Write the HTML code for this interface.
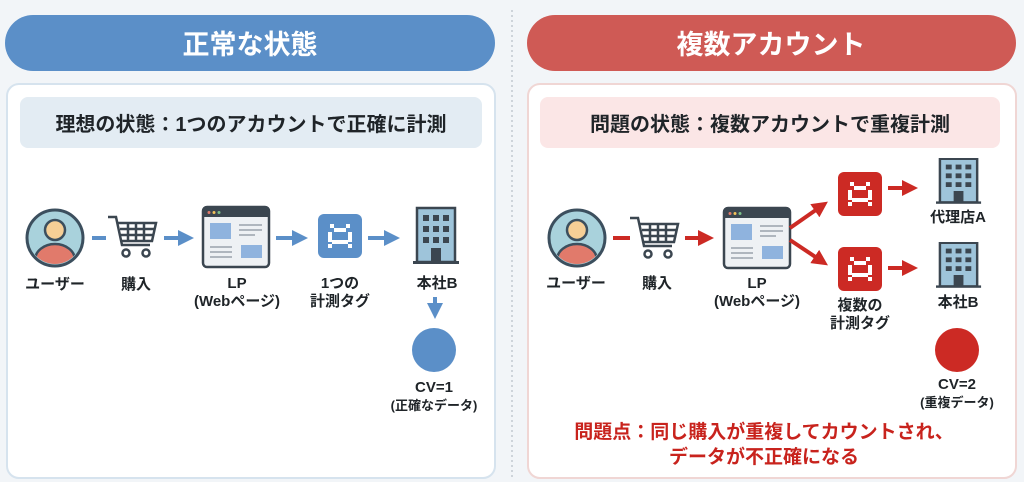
<!DOCTYPE html>
<html><head><meta charset="utf-8"><style>
body{margin:0;width:1024px;height:482px;overflow:hidden;background:#f2f5f8;}
svg{display:block}
text{font-family:"Liberation Sans","Noto Sans CJK JP",sans-serif;font-weight:bold;}
</style></head><body>
<svg width="1024" height="482" viewBox="0 0 1024 482">
<defs>
<marker id="ab" markerWidth="4" markerHeight="4" refX="2.5" refY="2" orient="auto" markerUnits="strokeWidth"><path d="M0,0 L4,2 L0,4Z" fill="#5b8fc8"/></marker>
<marker id="ar" markerWidth="4" markerHeight="4" refX="2.5" refY="2" orient="auto" markerUnits="strokeWidth"><path d="M0,0 L4,2 L0,4Z" fill="#cc2a24"/></marker>
<g id="person"><circle r="28" fill="#a9d2dc" stroke="#3c4f5e" stroke-width="3"/><clipPath id="pc"><circle r="26"/></clipPath><g clip-path="url(#pc)"><ellipse cx="0" cy="22" rx="20" ry="16" fill="#e17a6b" stroke="#3c4f5e" stroke-width="2.5"/></g><circle cy="-8" r="10" fill="#f6cf96" stroke="#3c4f5e" stroke-width="2.5"/></g>
<g id="cart" fill="none" stroke="#3b4650" stroke-width="2.5"><path d="M0,2 H8 L14,30 H42"/><path d="M9,8 H48 L44,26 H13"/><path d="M12,14 H46 M12,20 H45 M20,8 V26 M28,8 V26 M36,8 V26"/><circle cx="18" cy="38" r="3.5"/><circle cx="38" cy="38" r="3.5"/></g>
<g id="lp"><rect width="66" height="60" rx="4" fill="#eef1f4" stroke="#3b4650" stroke-width="2.5"/><rect x="1" y="1" width="64" height="9" fill="#3b4650"/><circle cx="6" cy="5.5" r="1.5" fill="#e17a6b"/><circle cx="11" cy="5.5" r="1.5" fill="#f3c25a"/><circle cx="16" cy="5.5" r="1.5" fill="#7cc08a"/><rect x="7" y="16" width="21" height="16" fill="#8fb3de"/><rect x="38" y="38" width="21" height="13" fill="#8fb3de"/><g stroke="#9aa3ab" stroke-width="1.5"><path d="M36,18H59 M36,23H59 M36,28H52 M7,40H29 M7,45H29 M7,50H29"/></g></g>
<g id="tagw" fill="#fff"><rect x="12" y="10" width="4" height="4"/><rect x="28" y="10" width="4" height="4"/><rect x="16" y="14" width="12" height="4"/><rect x="10" y="18" width="4" height="10"/><rect x="30" y="18" width="4" height="10"/><rect x="14" y="26" width="16" height="4"/><rect x="10" y="30" width="4" height="4"/><rect x="30" y="30" width="4" height="4"/></g>
<g id="bld"><rect x="4" y="0" width="38" height="54" fill="#9ec4da" stroke="#3b4650" stroke-width="2.5"/><g fill="#3b4650"><rect x="10" y="7" width="6" height="6"/><rect x="20" y="7" width="6" height="6"/><rect x="30" y="7" width="6" height="6"/><rect x="10" y="18" width="6" height="6"/><rect x="20" y="18" width="6" height="6"/><rect x="30" y="18" width="6" height="6"/><rect x="10" y="29" width="6" height="6"/><rect x="20" y="29" width="6" height="6"/><rect x="30" y="29" width="6" height="6"/><rect x="18" y="40" width="10" height="14"/><rect x="0" y="53" width="46" height="3"/></g></g>
</defs>
<line x1="512" y1="10" x2="512" y2="478" stroke="#aab4bd" stroke-width="1" stroke-dasharray="2,3"/>
<rect x="5" y="15" width="490" height="56" rx="28" fill="#5b8fc8"/>
<text x="250" y="54" font-size="27" fill="#fff" text-anchor="middle" font-weight="normal">正常な状態</text>
<rect x="527" y="15" width="489" height="56" rx="28" fill="#cf5a55"/>
<text x="771" y="54" font-size="27" fill="#fff" text-anchor="middle" font-weight="normal">複数アカウント</text>
<rect x="7" y="84" width="488" height="394" rx="12" fill="#fff" stroke="#d6e3ee" stroke-width="2"/>
<rect x="528" y="84" width="488" height="394" rx="12" fill="#fff" stroke="#f0d6d4" stroke-width="2"/>
<rect x="20" y="97" width="462" height="51" rx="8" fill="#e3ecf3"/>
<text x="251" y="131" font-size="20" fill="#1f2428" text-anchor="middle">理想の状態：1つのアカウントで正確に計測</text>
<rect x="540" y="97" width="460" height="51" rx="8" fill="#fbe6e6"/>
<text x="770" y="131" font-size="20" fill="#1f2428" text-anchor="middle">問題の状態：複数アカウントで重複計測</text>
<!-- left flow -->
<use href="#person" x="55" y="238"/>
<use href="#cart" x="108" y="215"/>
<use href="#lp" x="203" y="207"/>
<rect x="318" y="214" width="44" height="44" rx="6" fill="#5b8fc8"/><use href="#tagw" x="318" y="214"/>
<use href="#bld" x="413" y="208"/>
<g stroke="#5b8fc8" stroke-width="4" fill="none">
<line x1="92" y1="238" x2="106" y2="238"/>
<line x1="164" y1="238" x2="188" y2="238" marker-end="url(#ab)"/>
<line x1="276" y1="238" x2="302" y2="238" marker-end="url(#ab)"/>
<line x1="368" y1="238" x2="394" y2="238" marker-end="url(#ab)"/>
<line x1="435" y1="297" x2="435" y2="313" marker-end="url(#ab)"/>
</g>
<circle cx="434" cy="350" r="22" fill="#5b8fc8"/>
<g font-size="15" fill="#1f2428" text-anchor="middle">
<text x="55" y="289">ユーザー</text><text x="136" y="289">購入</text>
<text x="237" y="288">LP</text><text x="237" y="306">(Webページ)</text>
<text x="340" y="288">1つの</text><text x="340" y="306">計測タグ</text>
<text x="437" y="288">本社B</text>
<text x="434" y="392">CV=1</text><text x="434" y="410" font-size="13">(正確なデータ)</text>
</g>
<!-- right flow -->
<use href="#person" x="577" y="238"/>
<use href="#cart" x="630" y="216"/>
<use href="#lp" x="724" y="208"/>
<rect x="838" y="172" width="44" height="44" rx="6" fill="#cc2a24"/><use href="#tagw" x="838" y="172"/>
<rect x="838" y="247" width="44" height="44" rx="6" fill="#cc2a24"/><use href="#tagw" x="838" y="247"/>
<g transform="translate(936,159) scale(0.98,0.8)"><use href="#bld"/></g>
<g transform="translate(936,243) scale(0.98,0.8)"><use href="#bld"/></g>
<g stroke="#cc2a24" stroke-width="4" fill="none">
<line x1="613" y1="238" x2="630" y2="238"/>
<line x1="685" y1="238" x2="708" y2="238" marker-end="url(#ar)"/>
<line x1="790" y1="228" x2="823" y2="205" marker-end="url(#ar)"/>
<line x1="790" y1="240" x2="823" y2="262" marker-end="url(#ar)"/>
<line x1="888" y1="188" x2="912" y2="188" marker-end="url(#ar)"/>
<line x1="888" y1="268" x2="912" y2="268" marker-end="url(#ar)"/>
</g>
<circle cx="957" cy="350" r="22" fill="#cc2a24"/>
<g font-size="15" fill="#1f2428" text-anchor="middle">
<text x="576" y="288">ユーザー</text><text x="657" y="288">購入</text>
<text x="757" y="288">LP</text><text x="757" y="306">(Webページ)</text>
<text x="860" y="310">複数の</text><text x="860" y="328">計測タグ</text>
<text x="958" y="222">代理店A</text><text x="958" y="307">本社B</text>
<text x="957" y="389">CV=2</text><text x="957" y="407" font-size="13">(重複データ)</text>
</g>
<g font-size="19" fill="#c8231d" text-anchor="middle">
<text x="764" y="438">問題点：同じ購入が重複してカウントされ、</text>
<text x="764" y="463">データが不正確になる</text>
</g>
</svg>
</body></html>
